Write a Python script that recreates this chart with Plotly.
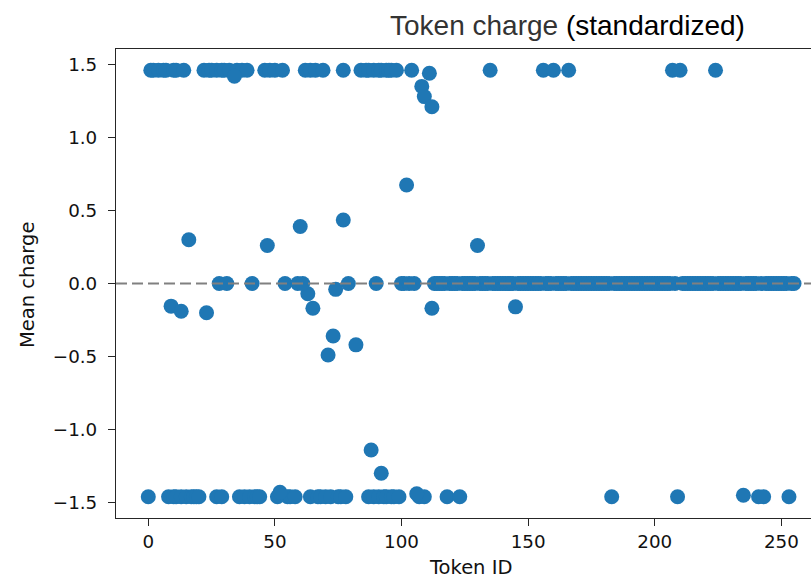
import plotly.graph_objects as go

# Token IDs sitting on the upper saturation level
high_ids = [1, 2, 4, 6, 7, 10, 11, 14,
            22, 24, 25, 27, 29, 30, 32, 35, 37, 39,
            46, 48, 50, 53,
            62, 64, 66, 69,
            77,
            84, 86, 87, 89, 91, 92, 94, 95, 96, 98,
            104,
            135, 156, 160, 166, 207, 210, 224]
HIGH = 1.46

# Token IDs sitting on the lower saturation level
low_ids = [0, 8, 10, 11, 13, 15, 17, 18, 19, 20,
           27, 29,
           36, 38, 40, 42, 43, 44,
           51, 55, 56, 58,
           64, 67, 68, 70, 72, 75, 76, 78,
           87, 89, 91, 93, 94, 96, 97, 99,
           107, 109,
           118, 123, 183, 209, 241, 243, 253]
LOW = -1.46

# Tokens with in-between mean charge
mid_ids = [34, 108, 109, 111, 112,
           102, 77, 60, 16, 47, 130,
           63, 74, 9, 13, 23, 65, 112, 145, 73, 82, 71,
           88, 92, 52, 106, 235]
mid_vals = [1.42, 1.35, 1.28, 1.44, 1.21,
            0.675, 0.435, 0.39, 0.30, 0.26, 0.26,
            -0.07, -0.04, -0.155, -0.19, -0.20, -0.17, -0.17, -0.16, -0.36, -0.42, -0.49,
            -1.14, -1.30, -1.43, -1.44, -1.45]

# Tokens whose mean charge is exactly zero
zero_ids_head = [28, 31, 41, 54, 59, 61, 79, 90, 100, 101, 103, 105]
zero_tail_start, zero_tail_end = 113, 255
taken = set(high_ids) | set(low_ids) | set(mid_ids)
zero_ids = zero_ids_head + [i for i in range(zero_tail_start, zero_tail_end + 1)
                            if i not in taken]

x_ticks = [0, 50, 100, 150, 200, 250]
y_ticks = [-1.5, -1.0, -0.5, 0.0, 0.5, 1.0, 1.5]
y_tick_text = ["\u22121.5", "\u22121.0", "\u22120.5", "0.0", "0.5", "1.0", "1.5"]

xs = high_ids + low_ids + mid_ids + zero_ids
ys = ([HIGH] * len(high_ids) + [LOW] * len(low_ids) + mid_vals
      + [0.0] * len(zero_ids))

W, H = 811, 579
L, R, T, B = 116, 0, 49, 61

fig = go.Figure()
fig.add_trace(go.Scatter(
    x=xs, y=ys, mode="markers",
    marker=dict(size=15, color="#1f77b4", line=dict(width=0)),
    hoverinfo="x+y", showlegend=False,
))

# dashed reference line at zero, drawn above the markers
fig.add_shape(type="line", xref="paper", yref="y", x0=0, x1=1, y0=0, y1=0,
              line=dict(color="#808080", width=2.2, dash="11px,5px"),
              layer="above")

tick_font = dict(family="DejaVu Sans", size=18.3, color="#111111")
label_font = dict(family="DejaVu Sans", size=19.5, color="#111111")

fig.update_xaxes(
    range=[-12.75, 261.7], tickmode="array", tickvals=x_ticks,
    showgrid=False, zeroline=False,
    showline=True, linecolor="#262626", linewidth=1.2, mirror=True,
    ticks="outside", ticklen=7, tickwidth=1.2, tickcolor="#262626",
    tickfont=tick_font,
)
fig.update_yaxes(
    range=[-1.606, 1.606], tickmode="array", tickvals=y_ticks, ticktext=y_tick_text,
    showgrid=False, zeroline=False,
    showline=True, linecolor="#262626", linewidth=1.2, mirror=False,
    ticks="outside", ticklen=7, tickwidth=1.2, tickcolor="#262626",
    tickfont=tick_font, ticklabelstandoff=7,
)

pw, ph = W - L - R, H - T - B


def px_x(px):
    return (px - L) / pw


def px_y(py):
    return (H - B - py) / ph


fig.add_annotation(
    text="<span style='color:#333333'>Token charge</span> (standardized)",
    xref="paper", yref="paper", x=px_x(567), y=px_y(26),
    xanchor="center", yanchor="middle", showarrow=False,
    font=dict(family="Liberation Sans", size=28, color="#000000"),
)
fig.add_annotation(
    text="Mean charge", textangle=-90,
    xref="paper", yref="paper", x=px_x(27), y=px_y(285),
    xanchor="center", yanchor="middle", showarrow=False, font=label_font,
)
fig.add_annotation(
    text="Token ID",
    xref="paper", yref="paper", x=px_x(470), y=px_y(567),
    xanchor="center", yanchor="middle", showarrow=False, font=label_font,
)

fig.update_layout(
    width=W, height=H, autosize=False,
    margin=dict(l=L, r=R, t=T, b=B, pad=0),
    paper_bgcolor="white", plot_bgcolor="white",
    showlegend=False,
)

fig.write_html("out.html")
